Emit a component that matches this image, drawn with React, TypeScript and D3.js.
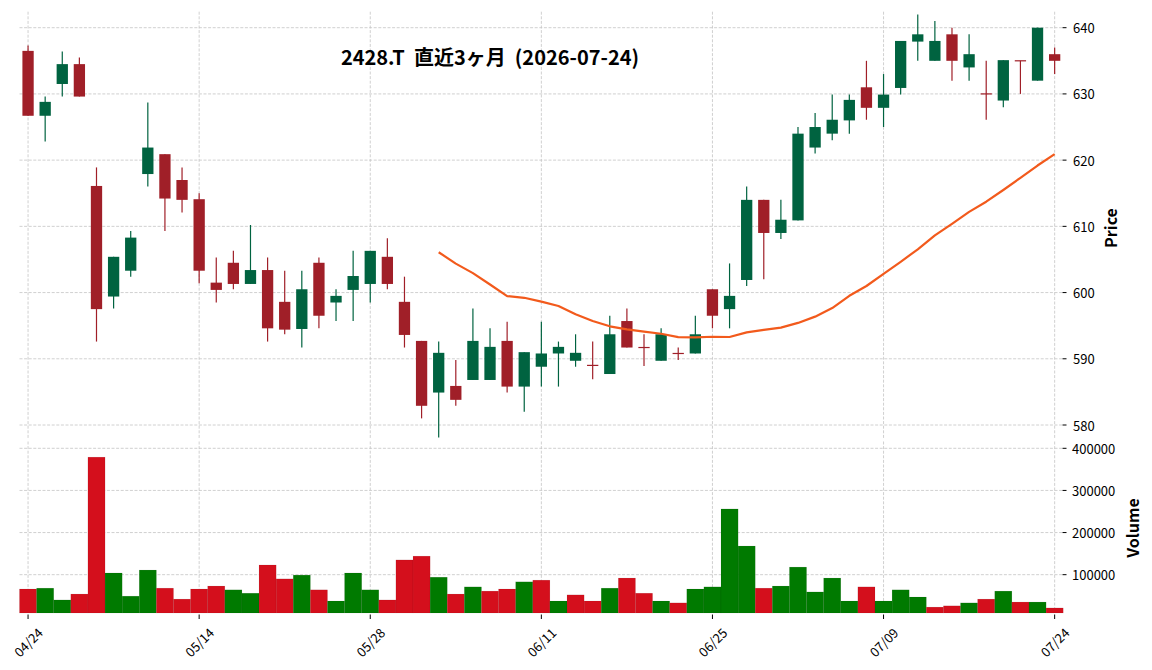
import React from 'react';
import * as d3 from 'd3';

const dates = [
  '04/24', '04/27', '04/28', '04/30', '05/01', '05/07', '05/08', '05/11', '05/12', '05/13',
  '05/14', '05/15', '05/18', '05/19', '05/20', '05/21', '05/22', '05/25', '05/26', '05/27',
  '05/28', '05/29', '06/01', '06/02', '06/03', '06/04', '06/05', '06/08', '06/09', '06/10',
  '06/11', '06/12', '06/15', '06/16', '06/17', '06/18', '06/19', '06/22', '06/23', '06/24',
  '06/25', '06/26', '06/29', '06/30', '07/01', '07/02', '07/03', '07/06', '07/07', '07/08',
  '07/09', '07/10', '07/13', '07/14', '07/15', '07/16', '07/17', '07/21', '07/22', '07/23',
  '07/24',
];

const opens = [
  636.5, 626.7, 631.5, 634.5, 616.1, 599.4, 603.3, 617.9, 620.9, 617.0,
  614.1, 601.5, 604.5, 601.3, 603.4, 598.6, 594.5, 604.5, 598.5, 600.4,
  601.3, 605.4, 598.6, 592.7, 584.9, 585.9, 586.8, 586.8, 592.7, 585.8,
  588.8, 590.8, 589.7, 589.0, 587.7, 595.7, 591.7, 589.7, 590.8, 590.8,
  600.5, 597.5, 601.9, 614.0, 609.0, 610.9, 621.9, 624.0, 626.0, 631.0,
  627.9, 630.9, 637.9, 635.0, 639.0, 634.0, 630.0, 629.0, 635.0, 632.0,
  636.0,
];

const highs = [
  637.3, 629.6, 636.4, 635.5, 618.9, 605.4, 609.3, 628.7, 620.9, 618.9,
  615.0, 605.3, 606.3, 610.2, 605.3, 603.3, 603.3, 605.3, 600.5, 606.3,
  606.3, 608.2, 602.4, 592.7, 592.6, 589.8, 597.6, 594.6, 595.6, 591.0,
  595.6, 592.6, 593.7, 592.6, 596.5, 597.6, 593.7, 594.6, 591.7, 596.5,
  600.5, 604.4, 616.0, 614.0, 614.0, 625.0, 627.1, 629.9, 629.9, 635.0,
  633.0, 638.0, 642.0, 641.0, 640.0, 639.0, 635.0, 635.1, 635.0, 640.0,
  637.0,
];

const lows = [
  626.7, 622.8, 629.6, 629.6, 592.6, 597.6, 602.4, 616.0, 609.3, 612.1,
  601.4, 598.5, 600.5, 601.3, 592.6, 593.7, 591.7, 594.6, 595.7, 595.7,
  598.5, 600.5, 591.7, 581.0, 578.1, 582.9, 586.8, 586.8, 584.9, 582.0,
  585.8, 585.8, 588.8, 586.9, 587.7, 591.7, 588.9, 589.7, 589.8, 590.8,
  594.6, 594.6, 601.0, 602.0, 608.1, 610.9, 621.0, 623.0, 624.0, 626.1,
  625.0, 629.9, 635.0, 635.0, 632.0, 632.0, 626.1, 628.0, 630.0, 632.0,
  633.0,
];

const closes = [
  626.7, 628.8, 634.5, 629.6, 597.5, 605.4, 608.3, 621.9, 614.2, 614.0,
  603.3, 600.4, 601.3, 603.4, 594.6, 594.4, 600.5, 596.5, 599.5, 602.5,
  606.3, 601.3, 593.6, 582.9, 590.9, 583.8, 592.7, 591.8, 585.8, 591.0,
  590.8, 591.8, 590.9, 588.9, 593.7, 591.7, 591.6, 593.7, 590.8, 593.7,
  596.5, 599.5, 614.0, 609.0, 611.0, 624.0, 625.0, 626.1, 629.1, 627.9,
  629.9, 638.0, 639.0, 638.0, 635.0, 636.0, 630.0, 635.1, 635.0, 640.0,
  635.0,
];

const volumes = [
  66000, 68000, 40000, 54000, 379000, 104000, 49000, 111000, 68000, 42000,
  66000, 73000, 64000, 56000, 123000, 90000, 99000, 64000, 37500, 104000,
  64000, 40000, 135000, 144000, 94000, 54000, 71000, 61000, 66000, 83000,
  87000, 37500, 52000, 37500, 68000, 92000, 56000, 37500, 33000, 66000,
  71000, 256000, 168000, 68000, 73000, 118000, 59000, 92000, 37500, 71000,
  37500, 64000, 47000, 23000, 26000, 33000, 42000, 61000, 35000, 35000,
  21000,
];

const xTickLabels = ['04/24', '05/14', '05/28', '06/11', '06/25', '07/09', '07/24'];
const priceTicks = [580, 590, 600, 610, 620, 630, 640];
const volumeTicks = [100000, 200000, 300000, 400000];
const maWindow = 25;
const titleText = '2428.T  直近3ヶ月  (2026-07-24)';

const FONT = '"Noto Sans CJK JP", "Noto Sans", sans-serif';
const CANDLE_UP = '#006340';
const CANDLE_DOWN = '#a01f28';
const VOL_UP = '#007a00';
const VOL_DOWN = '#d40f1c';
const MA_COLOR = '#f25a1c';
const GRID = '#c4c4c4';

export default function App() {
  const W = 1152;
  const H = 670;
  const plotL = 19.5;
  const plotR = 1062;
  const priceTop = 11.7;
  const priceBottom = 439;
  const volTop = 441.5;
  const volBottom = 613;

  const n = dates.length;
  const x = d3.scaleLinear().domain([-0.5, n - 0.5]).range([19.5, 1063.2]);
  const step = x(1) - x(0);
  const bodyW = step * 0.66;
  const yP = d3.scaleLinear().domain([580, 640]).range([425, 27.7]);
  const yV = d3.scaleLinear().domain([0, 400000]).range([616.8, 448.3]);

  const ma: { i: number; v: number }[] = [];
  for (let i = maWindow - 1; i < n; i++) {
    ma.push({ i, v: d3.mean(closes.slice(i - maWindow + 1, i + 1)) as number });
  }
  const maPath = d3
    .line<{ i: number; v: number }>()
    .x((d) => x(d.i))
    .y((d) => yP(d.v))(ma) as string;

  const tickIdx = xTickLabels.map((t) => dates.indexOf(t));

  return (
    <svg
      width={W}
      height={H}
      style={{ position: 'absolute', left: 0, top: 0, background: '#fff' }}
      fontFamily={FONT}
    >
      <rect x={0} y={0} width={W} height={H} fill="#fff" />
      {/* grids */}
      <g stroke={GRID} strokeWidth={0.8} strokeDasharray="3,1.6" fill="none">
        {priceTicks.map((t) => (
          <line key={'pg' + t} x1={plotL} x2={plotR} y1={yP(t)} y2={yP(t)} />
        ))}
        {volumeTicks.map((t) => (
          <line key={'vg' + t} x1={plotL} x2={plotR} y1={yV(t)} y2={yV(t)} />
        ))}
        {tickIdx.map((i) => (
          <line key={'xg1' + i} x1={x(i)} x2={x(i)} y1={priceTop} y2={priceBottom} />
        ))}
        {tickIdx.map((i) => (
          <line key={'xg2' + i} x1={x(i)} x2={x(i)} y1={volTop} y2={volBottom} />
        ))}
      </g>

      {/* candles */}
      <g>
        {dates.map((d, i) => {
          const up = closes[i] > opens[i];
          const c = up ? CANDLE_UP : CANDLE_DOWN;
          const top = yP(Math.max(opens[i], closes[i]));
          const bot = yP(Math.min(opens[i], closes[i]));
          const h = Math.max(bot - top, 1.2);
          return (
            <g key={'c' + i}>
              <line x1={x(i)} x2={x(i)} y1={yP(highs[i])} y2={yP(lows[i])} stroke={c} strokeWidth={1.2} />
              <rect x={x(i) - bodyW / 2} y={h === bot - top ? top : top - 0.6} width={bodyW} height={h} fill={c} />
            </g>
          );
        })}
      </g>

      {/* moving average */}
      <path d={maPath} fill="none" stroke={MA_COLOR} strokeWidth={2.2} strokeLinejoin="round" />

      {/* volume */}
      <g>
        {volumes.map((v, i) => {
          const up = i === 0 ? closes[i] > opens[i] : closes[i] > closes[i - 1];
          const c = up ? VOL_UP : VOL_DOWN;
          const top = yV(v);
          return (
            <rect
              key={'v' + i}
              x={x(i) - step / 2}
              y={top}
              width={step}
              height={volBottom - top}
              fill={c}
              stroke="rgba(0,0,0,0.12)"
              strokeWidth={0.5}
            />
          );
        })}
      </g>

      {/* right axis: price */}
      <g fontSize={13} fill="#000">
        {priceTicks.map((t) => (
          <g key={'pt' + t}>
            <line x1={1062.5} x2={1066.5} y1={yP(t)} y2={yP(t)} stroke="#000" strokeWidth={1} />
            <text x={1073} y={yP(t)} dominantBaseline="central">
              {t}
            </text>
          </g>
        ))}
        {volumeTicks.map((t) => (
          <g key={'vt' + t}>
            <line x1={1062.5} x2={1066.5} y1={yV(t)} y2={yV(t)} stroke="#000" strokeWidth={1} />
            <text x={1072} y={yV(t)} dominantBaseline="central">
              {t}
            </text>
          </g>
        ))}
      </g>
      <text
        transform={`translate(1110,228) rotate(-90)`}
        textAnchor="middle"
        dominantBaseline="central"
        fontSize={16}
        fontWeight="bold"
      >
        Price
      </text>
      <text
        transform={`translate(1132,528) rotate(-90)`}
        textAnchor="middle"
        dominantBaseline="central"
        fontSize={16}
        fontWeight="bold"
      >
        Volume
      </text>

      {/* x axis */}
      <g fontSize={13}>
        {tickIdx.map((i, k) => (
          <g key={'xt' + i}>
            <line x1={x(i)} x2={x(i)} y1={614.5} y2={619} stroke="#000" strokeWidth={1} />
            <text
              transform={`translate(${x(i)},642) rotate(-45)`}
              textAnchor="middle"
              dominantBaseline="central"
            >
              {xTickLabels[k]}
            </text>
          </g>
        ))}
      </g>

      {/* title */}
      <text
        x={490}
        y={56}
        textAnchor="middle"
        dominantBaseline="central"
        fontSize={20}
        fontWeight="bold"
        style={{ whiteSpace: 'pre' }}
      >
        {titleText}
      </text>
    </svg>
  );
}
